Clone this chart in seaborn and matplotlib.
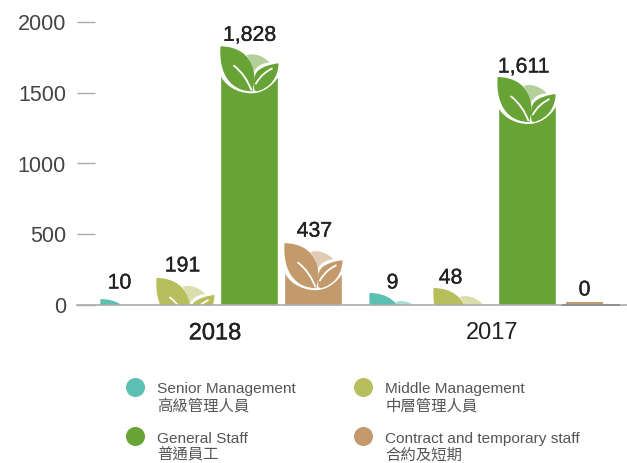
import numpy as np
import pandas as pd
import matplotlib
matplotlib.use('Agg')
import matplotlib.pyplot as plt
import matplotlib.patheffects as pe
from matplotlib.font_manager import FontProperties
from matplotlib.lines import Line2D
from matplotlib.patches import PathPatch
from matplotlib.path import Path
from matplotlib.transforms import ScaledTranslation
import seaborn as sns

years = ['2018', '2017']
categories = ['Senior Management', 'Middle Management', 'General Staff', 'Contract and temporary staff']
categories_zh = ['高級管理人員', '中層管理人員', '普通員工', '合約及短期']
senior = [10, 9]
middle = [191, 48]
general = [1828, 1611]
contract = [437, 0]

colors = ['#5BBFB1', '#B7BE5C', '#68A336', '#C29A6B']

# the artwork lifts the tip of the leaf on small bars
senior_tips = [42, 85]
middle_tips = [191, 120]
general_tips = [1828, 1611]
contract_tips = [437, 437]

# nudges of the value labels in pixels (dx, gap above the leaf tip)
label_nudge = [[(-2, 16), (-6, 10)], [(-3, 12), (-12, 10)], [(0, 11), (-3, 10)], [(1, 12), (-6, 15)]]
leaf_shift = [[8, 0], [0, 0], [0, 0], [0, 0]]

INK = '#222222'
AXIS = '#ababab'

W, H = 627, 463
BASE_Y = 305
PX = 2000 / 283  # data units per pixel
X_PER_PX = 1 / 277

# leaf artwork, in pixels from the tip, on a bar 58 px wide
M, C, L, Z = Path.MOVETO, Path.CURVE4, Path.LINETO, Path.CLOSEPOLY
MASK = ([(-1, -2), (59, -2), (59, 29), (52, 40), (42, 47), (31, 47), (16, 47), (2, 38), (-1, 26), (-1, -2), (-1, -2)],
        [M, L, L, C, C, C, C, C, C, L, Z])
MAIN = ([(0, 0), (16, 0), (34, 8), (34, 34), (32, 45), (12, 45), (-2, 30), (0, 0), (0, 0)],
        [M, C, C, C, L, C, C, C, Z])
SIDE = ([(34, 44), (33, 36), (33, 28), (38, 24), (43, 20), (50, 18), (58, 17), (58, 30), (50, 42), (36, 45), (34, 44)],
        [M, C, C, C, C, C, C, C, C, C, Z])
PALE = ([(26, 9), (34, 6), (43, 10), (49, 16), (41, 17), (36, 20), (33, 26), (32, 18), (29, 13), (26, 9), (26, 9)],
        [M, C, C, C, C, C, C, C, C, C, Z])
VEINS = ([(13, 19), (22, 26), (27, 34), (31, 44), (35, 38), (40, 29), (46, 25), (52, 22)],
         [M, C, C, C, M, C, C, C])


def leaf_path(shape, x0, width, tip):
    verts = np.array(shape[0], dtype=float)
    verts[:, 0] = x0 + verts[:, 0] * width / 58
    verts[:, 1] = tip - verts[:, 1] * PX
    return Path(verts, shape[1])


def draw_leaf(ax, bar, tip, shift, color):
    x0 = bar.get_x() + shift * X_PER_PX
    w = bar.get_width()
    ax.add_patch(PathPatch(leaf_path(MASK, x0, w, tip), fc='white', ec='none', zorder=3))
    ax.add_patch(PathPatch(leaf_path(PALE, x0, w, tip), fc=color, ec='none', alpha=0.5, zorder=4))
    ax.add_patch(PathPatch(leaf_path(MAIN, x0, w, tip), fc=color, ec='none', zorder=4))
    ax.add_patch(PathPatch(leaf_path(SIDE, x0, w, tip), fc=color, ec='none', zorder=4))
    ax.add_patch(PathPatch(leaf_path(VEINS, x0, w, tip), fc='none', ec='white', lw=1.3, zorder=5))


def main():
    sns.set_theme(style='white')
    plt.rcParams['font.family'] = ['Liberation Sans', 'Noto Sans CJK TC']

    values = [senior, middle, general, contract]
    tips = [senior_tips, middle_tips, general_tips, contract_tips]
    rows = []
    for cat, vals in zip(categories, values):
        for year, v in zip(years, vals):
            rows.append({'year': year, 'category': cat, 'staff': v})
    df = pd.DataFrame(rows)

    fig = plt.figure(figsize=(W / 100, H / 100), dpi=100)
    ax = fig.add_axes([77 / W, (H - BASE_Y) / H, 550 / W, BASE_Y / H])
    sns.barplot(data=df, x='year', y='staff', hue='category', order=years, hue_order=categories,
                palette=colors, width=0.924, gap=0.094, saturation=1, legend=False, ax=ax, zorder=2)

    ax.set_xlim(-0.507, 1.478)
    ax.set_ylim(0, BASE_Y * PX)
    ax.set_xlabel('')
    ax.set_ylabel('')
    ax.set_yticks([0, 500, 1000, 1500, 2000])
    ax.tick_params(axis='y', direction='in', length=18 * 0.72, width=1, color=AXIS, pad=8,
                   labelsize=15.5, labelcolor='#444444', left=True)
    ax.tick_params(axis='x', length=0, pad=12.5, labelsize=17, labelcolor=INK)
    for lab, bold in zip(ax.get_xticklabels(), [True, False]):
        lab.set_transform(lab.get_transform() + ScaledTranslation(-2.5 / 100, 0, fig.dpi_scale_trans))
        if bold:
            lab.set_path_effects([pe.withStroke(linewidth=0.3, foreground=INK)])

    for side in ['top', 'right', 'left']:
        ax.spines[side].set_visible(False)
    ax.spines['bottom'].set_color(AXIS)
    ax.spines['bottom'].set_linewidth(1.2)
    ax.spines['bottom'].set_zorder(6)

    for i, container in enumerate(ax.containers):
        for j, bar in enumerate(container):
            val = values[i][j]
            cx = bar.get_x() + bar.get_width() / 2
            dx, gap = label_nudge[i][j]
            if val == 0:
                # nothing to grow a leaf from, only a sliver on the axis
                ax.plot([bar.get_x(), bar.get_x() + bar.get_width()], [0, 0], color='#888888', lw=1.2,
                        clip_on=False, zorder=7, solid_capstyle='butt')
                ax.plot([bar.get_x() + 4 * X_PER_PX, bar.get_x() + 41 * X_PER_PX], [1.6 * PX, 1.6 * PX],
                        color=colors[i], lw=1.4, zorder=5, solid_capstyle='butt')
                tip = 0
            else:
                tip = tips[i][j]
                draw_leaf(ax, bar, tip, leaf_shift[i][j], colors[i])
            ax.annotate(f'{val:,}', (cx, tip), xytext=(dx * 0.72, gap * 0.72), textcoords='offset points',
                        ha='center', va='center', fontsize=15.3, color=INK, zorder=8,
                        path_effects=[pe.withStroke(linewidth=0.25, foreground=INK)])

    # legend fills column by column
    order = [0, 2, 1, 3]
    handles = [Line2D([], [], ls='none', marker='o', ms=13.7, mfc=colors[k], mec='none') for k in order]
    labels = [f'{categories[k]}\n{categories_zh[k]}' for k in order]
    font = FontProperties(family=['Liberation Sans', 'Noto Sans CJK TC'], size=11.1)
    leg = fig.legend(handles, labels, ncol=2, loc='upper left', bbox_to_anchor=(125 / W, 1 - 382 / H),
                     bbox_transform=fig.transFigure, frameon=False, prop=font, borderpad=0, borderaxespad=0,
                     handlelength=1.3, handletextpad=0.77, columnspacing=3.75, labelspacing=1.2)
    for t in leg.get_texts():
        t.set_color('#555555')
        t.set_linespacing(1.22)
    # circles sit beside the English line, not the middle of the two lines
    for h in leg.legend_handles:
        h.set_ydata(np.asarray(h.get_ydata()) + 8)

    fig.savefig('out.png', dpi=100)


if __name__ == "__main__":
    main()
